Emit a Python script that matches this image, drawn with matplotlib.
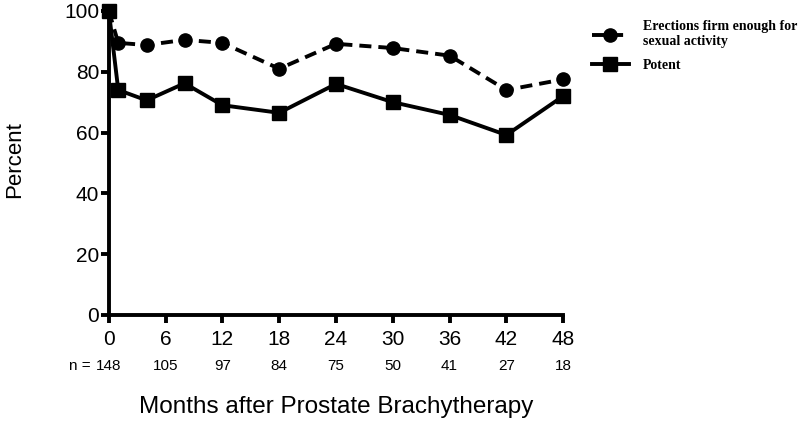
import numpy as np
import matplotlib.pyplot as plt
import matplotlib.transforms as mtransforms

months = [0, 1, 4, 8, 12, 18, 24, 30, 36, 42, 48]
erections = [100, 89.5, 88.8, 90.5, 89.5, 81, 89.2, 87.8, 85.3, 74, 77.5]
potent = [100, 74, 70.6, 76.2, 69, 66.5, 76, 70, 65.8, 59.2, 72]
tick_months = [0, 6, 12, 18, 24, 30, 36, 42, 48]
n_at_risk = ["148", "105", "97", "84", "75", "50", "41", "27", "18"]

plt.rcParams['font.family'] = ['Liberation Sans', 'DejaVu Sans']

fig = plt.figure(figsize=(8, 4.22), dpi=100)
ax = fig.add_axes([0.136, 0.2536, 0.568, 0.7204])

ax.plot(months, erections, color='k', lw=2.8, dashes=(3.1, 1.8),
        marker='o', markersize=9.5, clip_on=False, zorder=3,
        label='Erections firm enough for\nsexual activity')
ax.plot(months, potent, color='k', lw=2.8, linestyle='-',
        marker='s', markersize=9.5, clip_on=False, zorder=4,
        label='Potent')

ax.set_xlim(0, 48)
ax.set_ylim(0, 100)
ax.set_xticks(tick_months)
ax.set_yticks([0, 20, 40, 60, 80, 100])
ax.tick_params(axis='both', width=2.8, length=6, labelsize=15, pad=1)
ax.tick_params(axis='x', pad=5)
for side in ['top', 'right']:
    ax.spines[side].set_visible(False)
for side in ['left', 'bottom']:
    ax.spines[side].set_linewidth(2.8)

ax.set_ylabel('Percent', fontsize=16)
ax.yaxis.set_label_coords(-0.185, 0.51)
ax.set_xlabel('Months after Prostate Brachytherapy', fontsize=17.5)
ax.xaxis.set_label_coords(0.5, -0.265)

# n at risk row
trans = mtransforms.blended_transform_factory(ax.transData, fig.transFigure)
for m, n in zip(tick_months, n_at_risk):
    ax.text(m, 1 - 366 / 422, n, transform=trans, ha='center', va='center', fontsize=11)
ax.text(-1.5, 1 - 366 / 422, 'n = ', transform=trans, ha='right', va='center', fontsize=11)

leg = ax.legend(loc='upper left', bbox_to_anchor=(1.035, 1.01), frameon=False,
                handlelength=2.7, handletextpad=1.0, labelspacing=0.75,
                prop={'family': 'Liberation Serif', 'weight': 'bold', 'size': 10})

fig.savefig('out.png', dpi=100)
